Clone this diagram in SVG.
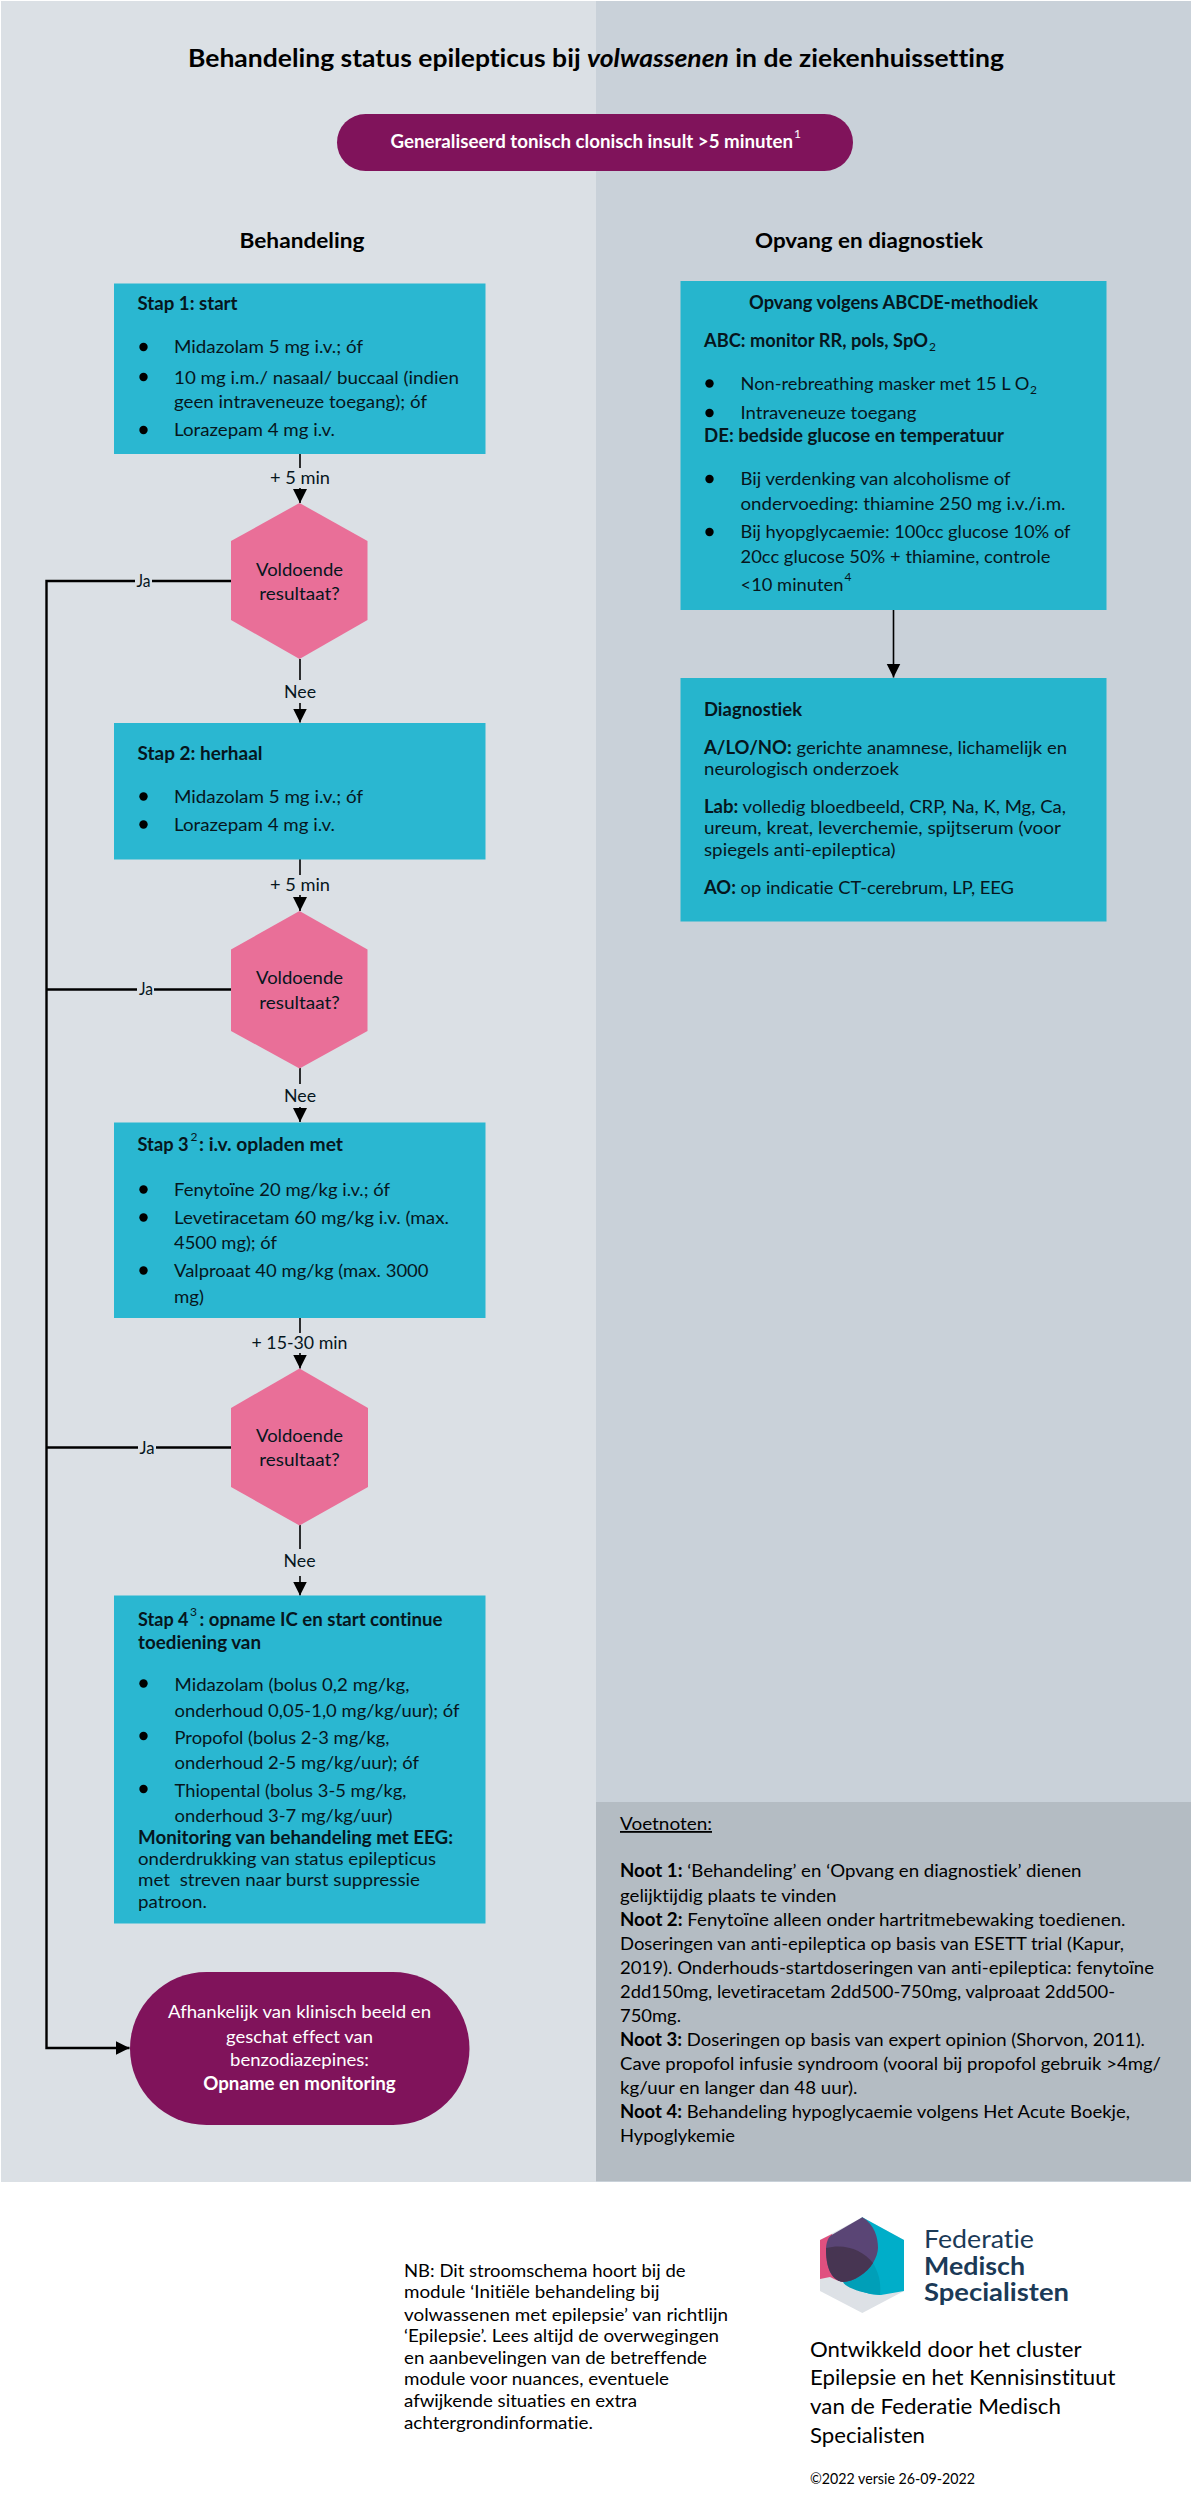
<svg xmlns="http://www.w3.org/2000/svg" width="1191" height="2497" viewBox="0 0 1191 2497">
<defs>
<marker id="ah" markerUnits="userSpaceOnUse" markerWidth="15" markerHeight="15" refX="14" refY="7" orient="auto"><path d="M0,0L14,7L0,14Z" fill="#000"/></marker>
</defs>
<style>
text{font-family:"Lato","Liberation Sans",sans-serif;font-size:18px;fill:#06161d;font-variant-ligatures:none}
.b{font-weight:700}
.c{text-anchor:middle}
.sup{font-size:12px}
.box{fill:#2ab7d1}
.rbox{fill:#26b5cd}
.hex{fill:#e96f98}
.pill{fill:#80135b}
.dot{fill:#000;r:4.2px}
.ln{stroke:#000;stroke-width:1.6;fill:none}
.ln2{stroke:#000;stroke-width:2.4;fill:none}
.blk{fill:#000}
.wh{fill:#fff}
</style>
<rect width="1191" height="2497" fill="#fff"/>
<rect x="1" y="1" width="595" height="2181" fill="#dbe0e5"/>
<rect x="596" y="1" width="595" height="2181" fill="#c9d1d9"/>
<rect x="596" y="1802" width="595" height="379" fill="#b4bcc3"/>

<text id="title" class="b blk" x="596" y="67" text-anchor="middle" style="font-size:25px" textLength="816" lengthAdjust="spacingAndGlyphs">Behandeling status epilepticus bij <tspan font-style="italic">volwassenen</tspan> in de ziekenhuissetting</text>
<text class="b c blk" x="302" y="248" style="font-size:21px" textLength="125" lengthAdjust="spacingAndGlyphs">Behandeling</text>
<text class="b c blk" x="869" y="248" style="font-size:21px" textLength="228" lengthAdjust="spacingAndGlyphs">Opvang en diagnostiek</text>

<g id="connectors">
<path class="ln" d="M300,454V503" marker-end="url(#ah)"/>
<path class="ln" d="M300,659V722.5" marker-end="url(#ah)"/>
<path class="ln" d="M300,859V911" marker-end="url(#ah)"/>
<path class="ln" d="M300,1068V1122" marker-end="url(#ah)"/>
<path class="ln" d="M300,1318V1368.5" marker-end="url(#ah)"/>
<path class="ln" d="M300,1525V1595.5" marker-end="url(#ah)"/>
<path class="ln" d="M893.5,610V677.5" marker-end="url(#ah)"/>
<path class="ln2" d="M231,581H46.5V2048H129.5" marker-end="url(#ah)"/>
<path class="ln2" d="M231,989.5H46.5"/>
<path class="ln2" d="M231,1447.5H46.5"/>
</g>

<g id="labels">
<rect x="268" y="468" width="64" height="20" fill="#dbe0e5"/><text class="c" x="300" y="483.5" textLength="60" lengthAdjust="spacingAndGlyphs">+ 5 min</text>
<rect x="282" y="680" width="36" height="23" fill="#dbe0e5"/><text class="c" x="300" y="698" textLength="32" lengthAdjust="spacingAndGlyphs">Nee</text>
<rect x="268" y="875" width="64" height="20" fill="#dbe0e5"/><text class="c" x="300" y="890.5" textLength="60" lengthAdjust="spacingAndGlyphs">+ 5 min</text>
<rect x="282" y="1084" width="36" height="23" fill="#dbe0e5"/><text class="c" x="300" y="1102" textLength="32" lengthAdjust="spacingAndGlyphs">Nee</text>
<rect x="250" y="1333" width="100" height="20" fill="#dbe0e5"/><text class="c" x="299.5" y="1349" textLength="96" lengthAdjust="spacingAndGlyphs">+ 15-30 min</text>
<rect x="282" y="1549" width="36" height="27" fill="#dbe0e5"/><text class="c" x="299.5" y="1567" textLength="32" lengthAdjust="spacingAndGlyphs">Nee</text>
<rect x="135" y="570" width="17" height="22" fill="#dbe0e5"/><text class="c" x="143.5" y="587" textLength="14" lengthAdjust="spacingAndGlyphs">Ja</text>
<rect x="137" y="979" width="17" height="22" fill="#dbe0e5"/><text class="c" x="146" y="995" textLength="14" lengthAdjust="spacingAndGlyphs">Ja</text>
<rect x="138" y="1437" width="18" height="22" fill="#dbe0e5"/><text class="c" x="147" y="1454" textLength="15" lengthAdjust="spacingAndGlyphs">Ja</text>
</g>

<g id="start">
<rect class="pill" x="337" y="114" width="516" height="57" rx="28.5"/>
<text class="b wh" x="390.5" y="148" textLength="402.5" lengthAdjust="spacingAndGlyphs">Generaliseerd tonisch clonisch insult &gt;5 minuten</text>
<text class="sup wh" x="794" y="138">1</text>
</g>

<g id="stap1">
<rect class="box" x="114" y="283.5" width="371.5" height="170.5"/>
<text class="b" x="137.5" y="310" textLength="100" lengthAdjust="spacingAndGlyphs">Stap 1: start</text>
<circle class="dot" cx="143.5" cy="347" r="4.2"/><text x="174" y="353" textLength="189" lengthAdjust="spacingAndGlyphs">Midazolam 5 mg i.v.; óf</text>
<circle class="dot" cx="143.5" cy="377" r="4.2"/><text x="174" y="383.5" textLength="285" lengthAdjust="spacingAndGlyphs">10 mg i.m./ nasaal/ buccaal (indien</text>
<text x="174" y="408" textLength="253" lengthAdjust="spacingAndGlyphs">geen intraveneuze toegang); óf</text>
<circle class="dot" cx="143.5" cy="430" r="4.2"/><text x="174" y="435.5" textLength="161" lengthAdjust="spacingAndGlyphs">Lorazepam 4 mg i.v.</text>
</g>

<g id="beslis1">
<polygon class="hex" points="299.5,503 367.5,541 367.5,620 299.5,659 231,620 231,541"/>
<text class="c" x="299.5" y="575.5" textLength="87" lengthAdjust="spacingAndGlyphs">Voldoende</text>
<text class="c" x="299.5" y="599.5" textLength="80.5" lengthAdjust="spacingAndGlyphs">resultaat?</text>
</g>

<g id="stap2">
<rect class="box" x="114" y="723" width="371.5" height="136.5"/>
<text class="b" x="137.5" y="760" textLength="125" lengthAdjust="spacingAndGlyphs">Stap 2: herhaal</text>
<circle class="dot" cx="143.5" cy="796.5" r="4.2"/><text x="174" y="803" textLength="189" lengthAdjust="spacingAndGlyphs">Midazolam 5 mg i.v.; óf</text>
<circle class="dot" cx="143.5" cy="824.5" r="4.2"/><text x="174" y="831" textLength="161" lengthAdjust="spacingAndGlyphs">Lorazepam 4 mg i.v.</text>
</g>

<g id="beslis2">
<polygon class="hex" points="299.5,911 367.5,949.5 367.5,1031 299.5,1068.5 231,1031 231,949.5"/>
<text class="c" x="299.5" y="984" textLength="87" lengthAdjust="spacingAndGlyphs">Voldoende</text>
<text class="c" x="299.5" y="1008.5" textLength="80.5" lengthAdjust="spacingAndGlyphs">resultaat?</text>
</g>

<g id="stap3">
<rect class="box" x="114" y="1122.5" width="371.5" height="195.5"/>
<text class="b" x="137.5" y="1150.5" textLength="51" lengthAdjust="spacingAndGlyphs">Stap 3</text>
<text class="sup" x="190.5" y="1141">2</text>
<text class="b" x="199" y="1150.5" textLength="144" lengthAdjust="spacingAndGlyphs">: i.v. opladen met</text>
<circle class="dot" cx="143.5" cy="1189.5" r="4.2"/><text x="174" y="1196" textLength="216" lengthAdjust="spacingAndGlyphs">Fenytoïne 20 mg/kg i.v.; óf</text>
<circle class="dot" cx="143.5" cy="1217.5" r="4.2"/><text x="174" y="1224" textLength="275" lengthAdjust="spacingAndGlyphs">Levetiracetam 60 mg/kg i.v. (max.</text>
<text x="174" y="1248.5" textLength="103" lengthAdjust="spacingAndGlyphs">4500 mg); óf</text>
<circle class="dot" cx="143.5" cy="1270.5" r="4.2"/><text x="174" y="1277" textLength="254.5" lengthAdjust="spacingAndGlyphs">Valproaat 40 mg/kg (max. 3000</text>
<text x="174" y="1302.5" textLength="30" lengthAdjust="spacingAndGlyphs">mg)</text>
</g>

<g id="beslis3">
<polygon class="hex" points="299.5,1368.5 368,1408 368,1487 299.5,1525.5 231,1487 231,1408"/>
<text class="c" x="299.5" y="1442" textLength="87" lengthAdjust="spacingAndGlyphs">Voldoende</text>
<text class="c" x="299.5" y="1466" textLength="80.5" lengthAdjust="spacingAndGlyphs">resultaat?</text>
</g>

<g id="stap4">
<rect class="box" x="114" y="1595.5" width="371.5" height="328"/>
<text class="b" x="138" y="1625.5" textLength="50.5" lengthAdjust="spacingAndGlyphs">Stap 4</text>
<text class="sup" x="190" y="1616">3</text>
<text class="b" x="199.5" y="1625.5" textLength="243" lengthAdjust="spacingAndGlyphs">: opname IC en start continue</text>
<text class="b" x="138" y="1648.5" textLength="123" lengthAdjust="spacingAndGlyphs">toediening van</text>
<circle class="dot" cx="143.5" cy="1683.5" r="4.2"/><text x="174.5" y="1690.5" textLength="235" lengthAdjust="spacingAndGlyphs">Midazolam (bolus 0,2 mg/kg,</text>
<text x="174.5" y="1717" textLength="285" lengthAdjust="spacingAndGlyphs">onderhoud 0,05-1,0 mg/kg/uur); óf</text>
<circle class="dot" cx="143.5" cy="1736" r="4.2"/><text x="174.5" y="1743.5" textLength="215" lengthAdjust="spacingAndGlyphs">Propofol (bolus 2-3 mg/kg,</text>
<text x="174.5" y="1769" textLength="244.5" lengthAdjust="spacingAndGlyphs">onderhoud 2-5 mg/kg/uur); óf</text>
<circle class="dot" cx="143.5" cy="1789" r="4.2"/><text x="174.5" y="1796.5" textLength="232" lengthAdjust="spacingAndGlyphs">Thiopental (bolus 3-5 mg/kg,</text>
<text x="174.5" y="1822" textLength="218" lengthAdjust="spacingAndGlyphs">onderhoud 3-7 mg/kg/uur)</text>
<text class="b" x="138" y="1843.5" textLength="315" lengthAdjust="spacingAndGlyphs">Monitoring van behandeling met EEG:</text>
<text x="138" y="1865" textLength="298" lengthAdjust="spacingAndGlyphs">onderdrukking van status epilepticus</text>
<text x="138" y="1886" xml:space="preserve" textLength="282" lengthAdjust="spacingAndGlyphs">met  streven naar burst suppressie</text>
<text x="138" y="1908" textLength="69" lengthAdjust="spacingAndGlyphs">patroon.</text>
</g>

<g id="opname">
<rect class="pill" x="130" y="1972" width="339.5" height="153" rx="76.5"/>
<text class="c wh" x="299.5" y="2018" textLength="263" lengthAdjust="spacingAndGlyphs">Afhankelijk van klinisch beeld en</text>
<text class="c wh" x="299.5" y="2042.5" textLength="147" lengthAdjust="spacingAndGlyphs">geschat effect van</text>
<text class="c wh" x="299.5" y="2066" textLength="139" lengthAdjust="spacingAndGlyphs">benzodiazepines:</text>
<text class="c b wh" x="299.5" y="2090" textLength="192.5" lengthAdjust="spacingAndGlyphs">Opname en monitoring</text>
</g>

<g id="opvang">
<rect class="rbox" x="680.5" y="281" width="426" height="329"/>
<text class="b c" x="893.5" y="308.5" textLength="289" lengthAdjust="spacingAndGlyphs">Opvang volgens ABCDE-methodiek</text>
<text class="b" x="704" y="347" textLength="224" lengthAdjust="spacingAndGlyphs">ABC: monitor RR, pols, SpO</text>
<text class="sup" x="929" y="351">2</text>
<circle class="dot" cx="709.5" cy="383.5" r="4.2"/><text x="740.5" y="389.5" textLength="289" lengthAdjust="spacingAndGlyphs">Non-rebreathing masker met 15 L O</text>
<text class="sup" x="1030" y="393.5">2</text>
<circle class="dot" cx="709.5" cy="413" r="4.2"/><text x="740.5" y="419" textLength="176" lengthAdjust="spacingAndGlyphs">Intraveneuze toegang</text>
<text class="b" x="704" y="441.5" textLength="300" lengthAdjust="spacingAndGlyphs">DE: bedside glucose en temperatuur</text>
<circle class="dot" cx="709.5" cy="479" r="4.2"/><text x="740.5" y="485" textLength="270" lengthAdjust="spacingAndGlyphs">Bij verdenking van alcoholisme of</text>
<text x="740.5" y="510" textLength="325" lengthAdjust="spacingAndGlyphs">ondervoeding: thiamine 250 mg i.v./i.m.</text>
<circle class="dot" cx="709.5" cy="532" r="4.2"/><text x="740.5" y="538" textLength="330" lengthAdjust="spacingAndGlyphs">Bij hyopglycaemie: 100cc glucose 10% of</text>
<text x="740.5" y="562.5" textLength="310" lengthAdjust="spacingAndGlyphs">20cc glucose 50% + thiamine, controle</text>
<text x="740.5" y="590.5" textLength="103" lengthAdjust="spacingAndGlyphs">&lt;10 minuten</text>
<text class="sup" x="844.5" y="581">4</text>
</g>

<g id="diagnostiek">
<rect class="rbox" x="680.5" y="678" width="426" height="243.5"/>
<text class="b" x="704" y="716" textLength="98" lengthAdjust="spacingAndGlyphs">Diagnostiek</text>
<text x="704" y="754" textLength="363" lengthAdjust="spacingAndGlyphs"><tspan class="b">A/LO/NO:</tspan> gerichte anamnese, lichamelijk en</text>
<text x="704" y="775" textLength="195" lengthAdjust="spacingAndGlyphs">neurologisch onderzoek</text>
<text x="704" y="812.5" textLength="362" lengthAdjust="spacingAndGlyphs"><tspan class="b">Lab:</tspan> volledig bloedbeeld, CRP, Na, K, Mg, Ca,</text>
<text x="704" y="834" textLength="357" lengthAdjust="spacingAndGlyphs">ureum, kreat, leverchemie, spijtserum (voor</text>
<text x="704" y="856" textLength="191.5" lengthAdjust="spacingAndGlyphs">spiegels anti-epileptica)</text>
<text x="704" y="894" textLength="310" lengthAdjust="spacingAndGlyphs"><tspan class="b">AO:</tspan> op indicatie CT-cerebrum, LP, EEG</text>
</g>

<g id="voetnoten">
<text class="blk" x="620" y="1830" text-decoration="underline" textLength="92" lengthAdjust="spacingAndGlyphs">Voetnoten:</text>
<text class="blk" x="620" y="1877" textLength="461.5" lengthAdjust="spacingAndGlyphs"><tspan class="b">Noot 1:</tspan> ‘Behandeling’ en ‘Opvang en diagnostiek’ dienen</text>
<text class="blk" x="620" y="1901.5" textLength="216.5" lengthAdjust="spacingAndGlyphs">gelijktijdig plaats te vinden</text>
<text class="blk" x="620" y="1925.5" textLength="505.5" lengthAdjust="spacingAndGlyphs"><tspan class="b">Noot 2:</tspan> Fenytoïne alleen onder hartritmebewaking toedienen.</text>
<text class="blk" x="620" y="1950" textLength="504" lengthAdjust="spacingAndGlyphs">Doseringen van anti-epileptica op basis van ESETT trial (Kapur,</text>
<text class="blk" x="620" y="1974" textLength="534" lengthAdjust="spacingAndGlyphs">2019). Onderhouds-startdoseringen van anti-epileptica: fenytoïne</text>
<text class="blk" x="620" y="1998" textLength="495" lengthAdjust="spacingAndGlyphs">2dd150mg, levetiracetam 2dd500-750mg, valproaat 2dd500-</text>
<text class="blk" x="620" y="2022" textLength="61" lengthAdjust="spacingAndGlyphs">750mg.</text>
<text class="blk" x="620" y="2045.5" textLength="525" lengthAdjust="spacingAndGlyphs"><tspan class="b">Noot 3:</tspan> Doseringen op basis van expert opinion (Shorvon, 2011).</text>
<text class="blk" x="620" y="2070" textLength="541" lengthAdjust="spacingAndGlyphs">Cave propofol infusie syndroom (vooral bij propofol gebruik &gt;4mg/</text>
<text class="blk" x="620" y="2094" textLength="237.5" lengthAdjust="spacingAndGlyphs">kg/uur en langer dan 48 uur).</text>
<text class="blk" x="620" y="2118" textLength="510" lengthAdjust="spacingAndGlyphs"><tspan class="b">Noot 4:</tspan> Behandeling hypoglycaemie volgens Het Acute Boekje,</text>
<text class="blk" x="620" y="2142" textLength="115" lengthAdjust="spacingAndGlyphs">Hypoglykemie</text>
</g>

<g id="nb">
<text class="blk" x="404" y="2276.5" textLength="281.5" lengthAdjust="spacingAndGlyphs">NB: Dit stroomschema hoort bij de</text>
<text class="blk" x="404" y="2298" textLength="255.5" lengthAdjust="spacingAndGlyphs">module ‘Initiële behandeling bij</text>
<text class="blk" x="404" y="2320.5" textLength="324" lengthAdjust="spacingAndGlyphs">volwassenen met epilepsie’ van richtlijn</text>
<text class="blk" x="404" y="2342" textLength="315" lengthAdjust="spacingAndGlyphs">‘Epilepsie’. Lees altijd de overwegingen</text>
<text class="blk" x="404" y="2363.5" textLength="303" lengthAdjust="spacingAndGlyphs">en aanbevelingen van de betreffende</text>
<text class="blk" x="404" y="2385" textLength="265" lengthAdjust="spacingAndGlyphs">module voor nuances, eventuele</text>
<text class="blk" x="404" y="2406.5" textLength="233" lengthAdjust="spacingAndGlyphs">afwijkende situaties en extra</text>
<text class="blk" x="404" y="2428.5" textLength="189" lengthAdjust="spacingAndGlyphs">achtergrondinformatie.</text>
</g>

<g id="logo">
<polygon points="862.3,2217.3 904,2240 904,2291 862.3,2313 820,2291 820,2240" fill="#dde1e6"/>
<path d="M820,2240L832,2234L843,2282C838,2281 834,2279 830,2277L820,2279Z" fill="#e0507f"/>
<path d="M862.3,2217.3L904,2240V2291L881,2295C855,2295 828,2275 826,2250Z" fill="#00aec9"/>
<path d="M873,2263C880,2275 881,2285 880,2295C860,2293 845,2287 843,2282C853,2282 867,2273 873,2263Z" fill="#009fb8"/>
<path d="M862.3,2217.3C875,2225 878,2238 878,2248C878,2252 876,2258 873,2263C867,2273 853,2282 843,2282C830,2280 826,2265 826,2250C826,2243 828,2237 831.7,2235Z" fill="#5a4575"/>
<path d="M826,2248C845,2243 863,2250 873,2263C867,2273 853,2282 843,2282C830,2280 826,2265 826,2248Z" fill="#473552"/>
<text x="924" y="2248" style="font-size:25px;fill:#1b3a57" textLength="110" lengthAdjust="spacingAndGlyphs">Federatie</text>
<text class="b" x="924" y="2274.5" style="font-size:25px;fill:#1b3a57" textLength="101" lengthAdjust="spacingAndGlyphs">Medisch</text>
<text class="b" x="924" y="2301" style="font-size:25px;fill:#1b3a57" textLength="145" lengthAdjust="spacingAndGlyphs">Specialisten</text>
</g>

<g id="ontwikkeld">
<text class="blk" x="810" y="2356.5" style="font-size:21px" textLength="271.5" lengthAdjust="spacingAndGlyphs">Ontwikkeld door het cluster</text>
<text class="blk" x="810" y="2385" style="font-size:21px" textLength="305.5" lengthAdjust="spacingAndGlyphs">Epilepsie en het Kennisinstituut</text>
<text class="blk" x="810" y="2414" style="font-size:21px" textLength="251" lengthAdjust="spacingAndGlyphs">van de Federatie Medisch</text>
<text class="blk" x="810" y="2442.5" style="font-size:21px" textLength="115" lengthAdjust="spacingAndGlyphs">Specialisten</text>
<text class="blk" x="810" y="2484" style="font-size:15px" textLength="165" lengthAdjust="spacingAndGlyphs">©2022 versie 26-09-2022</text>
</g>
</svg>
